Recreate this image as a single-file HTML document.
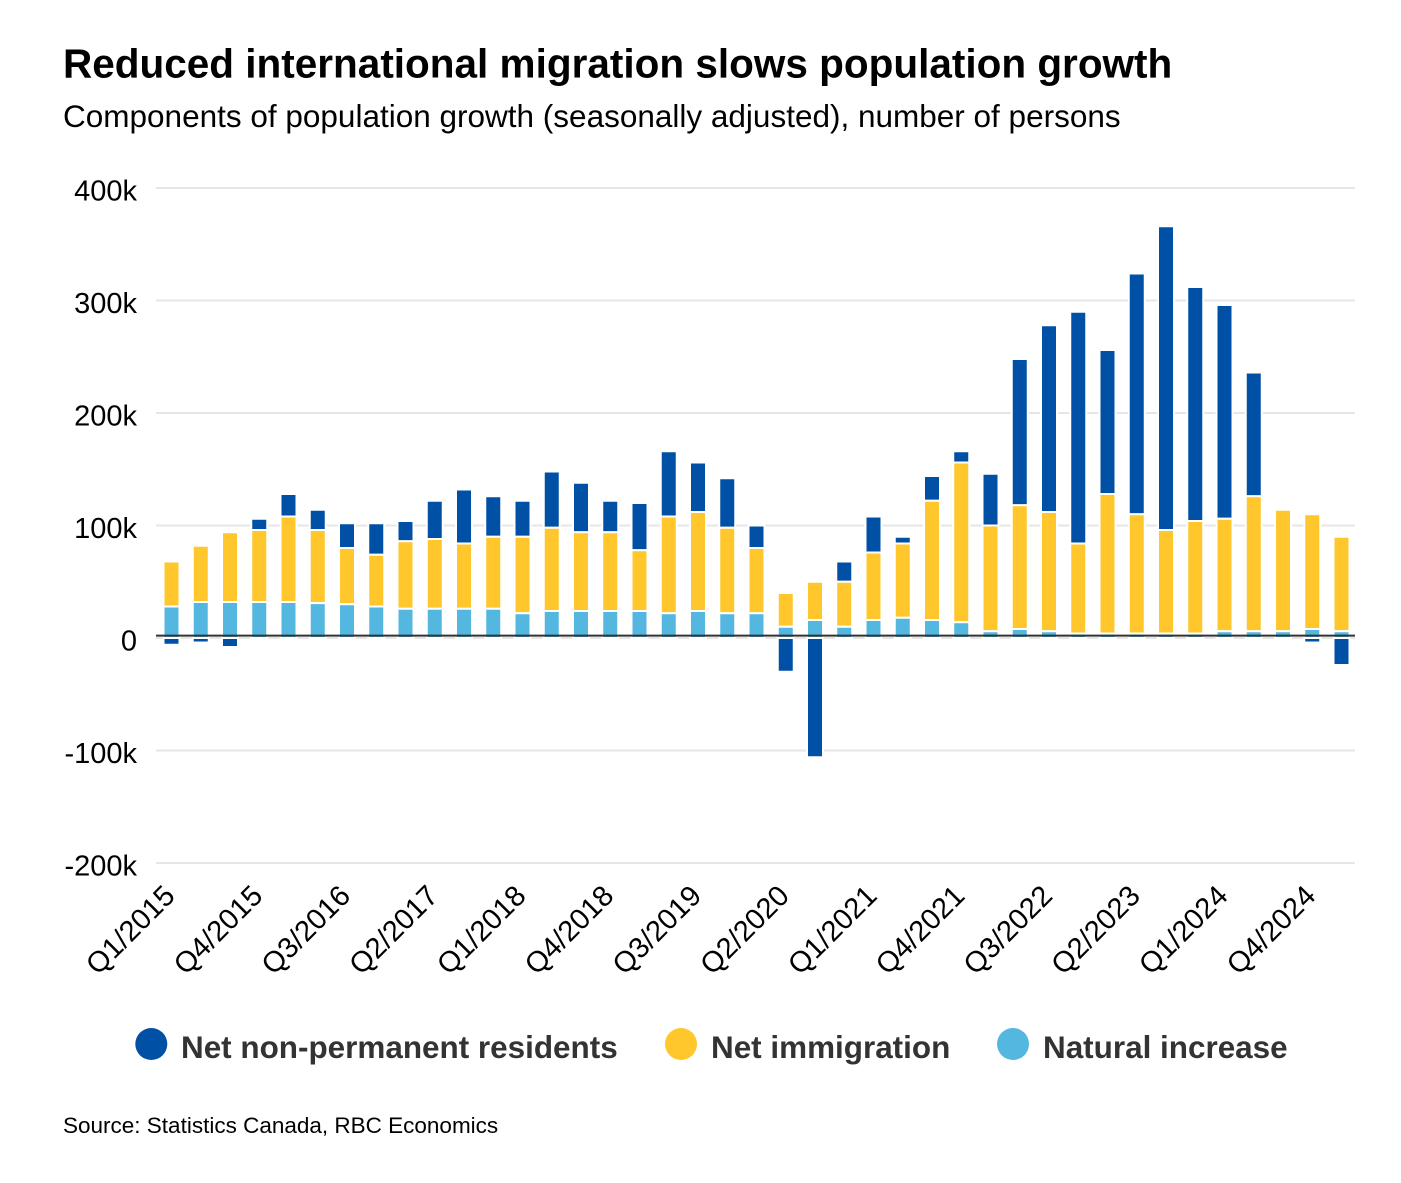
<!DOCTYPE html>
<html lang="en">
<head>
<meta charset="utf-8">
<title>Reduced international migration slows population growth</title>
<style>
  html, body { margin: 0; padding: 0; background: #fff; }
  body { width: 1401px; height: 1183px; overflow: hidden; font-family: "Liberation Sans", Arial, sans-serif; }
  svg { display: block; }
  text { font-family: "Liberation Sans", Arial, sans-serif; }
</style>
</head>
<body>
<svg id="chart" xmlns="http://www.w3.org/2000/svg" width="1401" height="1183" viewBox="0 0 1401 1183">
  <rect x="0" y="0" width="1401" height="1183" fill="#ffffff"/>
  <text x="63" y="77.5" font-size="40.5" font-weight="700" fill="#000">Reduced international migration slows population growth</text>
  <text x="63" y="127" font-size="31.5" fill="#000">Components of population growth (seasonally adjusted), number of persons</text>
  <g id="grid"></g>
  <g id="y-labels"></g>
  <g id="bars"></g>
  <line x1="156" x2="1355" y1="635.6" y2="635.6" stroke="#333333" stroke-width="2"/>
  <g id="x-labels"></g>
  <g>
    <g>
      <circle cx="151.3" cy="1044" r="16" fill="#0051a5"/>
      <text x="181" y="1058" font-size="31.45" font-weight="700" fill="#333333">Net non-permanent residents</text>
    </g>
    <g>
      <circle cx="681" cy="1044" r="16" fill="#ffc72c"/>
      <text x="711" y="1058" font-size="31.45" font-weight="700" fill="#333333">Net immigration</text>
    </g>
    <g>
      <circle cx="1013" cy="1044" r="16" fill="#54b7e0"/>
      <text x="1043" y="1058" font-size="31.45" font-weight="700" fill="#333333">Natural increase</text>
    </g>
  </g>
  <text x="63" y="1133" font-size="22.5" fill="#000">Source: Statistics Canada, RBC Economics</text>
</svg>
<script>
// Values in thousands of persons, Q1/2015 to Q1/2025.
const quarters = ["Q1/2015","Q2/2015","Q3/2015","Q4/2015","Q1/2016","Q2/2016","Q3/2016","Q4/2016","Q1/2017","Q2/2017","Q3/2017","Q4/2017","Q1/2018","Q2/2018","Q3/2018","Q4/2018","Q1/2019","Q2/2019","Q3/2019","Q4/2019","Q1/2020","Q2/2020","Q3/2020","Q4/2020","Q1/2021","Q2/2021","Q3/2021","Q4/2021","Q1/2022","Q2/2022","Q3/2022","Q4/2022","Q1/2023","Q2/2023","Q3/2023","Q4/2023","Q1/2024","Q2/2024","Q3/2024","Q4/2024","Q1/2025"];
const naturalIncrease = [28,32,32,32,32,31,30,28,26,26,26,26,22,24,24,24,24,22,24,22,22,10,16,10,16,18,16,14,6,8,6,4,4,4,4,4,6,6,6,8,6];
const netImmigration = [40,50,62,64,76,65,50,46,60,62,58,64,68,74,70,70,54,86,88,76,58,30,34,40,60,66,106,142,94,110,106,80,124,106,92,100,100,120,108,102,84];
const netNonPermanent = [-6,-4,-8,10,20,18,22,28,18,34,48,36,32,50,44,28,42,58,44,44,20,-30,-106,18,32,6,22,10,46,130,166,206,128,214,270,208,190,110,0,-4,-24];
const yTicks = [400,300,200,100,0,-100,-200];
const yTickLabels = ["400k","300k","200k","100k","0","-100k","-200k"];
const xTickEvery = 3;

const SVG_NS = "http://www.w3.org/2000/svg";
const BLUE = "#0051a5";
const YELLOW = "#ffc72c";
const LIGHT = "#54b7e0";

function yScale(v) { return 638 - v * 1.125; }
function xScale(i) { return 171.5 + i * 29.25; }

function make(tag, attrs) {
  const el = document.createElementNS(SVG_NS, tag);
  for (const k in attrs) el.setAttribute(k, attrs[k]);
  return el;
}

const gridG = document.getElementById("grid");
const yLabelG = document.getElementById("y-labels");
yTicks.forEach(function (t, i) {
  const line = make("line", { x1: 156, x2: 1355, y1: yScale(t), y2: yScale(t), stroke: "#e6e6e6", "stroke-width": 2 });
  
  
  gridG.appendChild(line);
  const label = make("text", { x: 137, y: yScale(t) + 12.5, "text-anchor": "end", "font-size": 29, fill: "#000" });
  
  
  label.textContent = yTickLabels[i];
  yLabelG.appendChild(label);
});

function drawSegment(parent, i, from, to, fill, name) {
  const top = yScale(Math.max(from, to));
  const bottom = yScale(Math.min(from, to));
  const rect = make("rect", { x: xScale(i) - 8, y: top, width: 16, height: Math.max(bottom - top, 0.01), fill: fill, stroke: "#ffffff", "stroke-width": 2 });
  
  
  parent.appendChild(rect);
}

const barsG = document.getElementById("bars");
quarters.forEach(function (q, i) {
  const group = make("g", {});
  
  
  const nat = naturalIncrease[i];
  const imm = netImmigration[i];
  const npr = netNonPermanent[i];
  const positiveTop = nat + imm;
  if (npr > 0) drawSegment(group, i, positiveTop, positiveTop + npr, BLUE, 'bar-net-non-permanent-residents');
  if (npr < 0) drawSegment(group, i, 0, npr, BLUE, 'bar-net-non-permanent-residents');
  drawSegment(group, i, nat, positiveTop, YELLOW, 'bar-net-immigration');
  drawSegment(group, i, 0, nat, LIGHT, 'bar-natural-increase');
  barsG.appendChild(group);
});

const xLabelG = document.getElementById("x-labels");
quarters.forEach(function (q, i) {
  if (i % xTickEvery !== 0) return;
  const px = xScale(i) + 5;
  const py = 897.5;
  const label = make("text", { x: px, y: py, "text-anchor": "end", "font-size": 29, fill: "#000", transform: "rotate(-45 " + px + " " + py + ")" });
  
  
  label.textContent = q;
  xLabelG.appendChild(label);
});
</script>
</body>
</html>
